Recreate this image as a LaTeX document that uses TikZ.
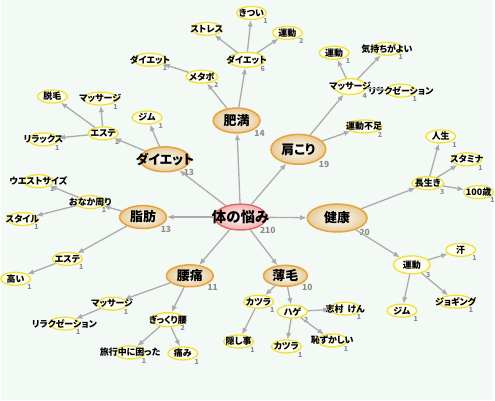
\documentclass[tikz,border=0pt]{standalone}
\usepackage{fontspec}
\newfontfamily\jp[RawFeature=+palt]{Noto Sans CJK JP}
\usetikzlibrary{shapes.geometric,arrows.meta}
\definecolor{bgmint}{HTML}{F3FAF5}
\definecolor{edgegray}{HTML}{ABABAB}
\definecolor{toporange}{HTML}{E9A23B}
\definecolor{toptan}{HTML}{E6CB98}
\definecolor{hubred}{HTML}{E46464}
\definecolor{hubpink}{HTML}{F3B0B0}
\definecolor{leafyellow}{HTML}{EFE03A}
\definecolor{leafcream}{HTML}{FFFDEB}
\definecolor{countgray}{HTML}{8C8C8C}
\newcommand\freetext[1]{\makebox[0pt]{#1}}
\tikzset{
  hub/.style={ellipse, draw=hubred, line width=1.4pt, inner color=white,
    outer color=hubpink, minimum width=52pt, minimum height=26pt, inner sep=0pt,
    font=\jp\bfseries\fontsize{14.5}{14.5}\selectfont},
  topic/.style={ellipse, draw=toporange, line width=1.5pt, inner color=white,
    outer color=toptan, inner sep=0pt,
    font=\jp\bfseries\fontsize{13}{13}\selectfont},
  leaf/.style={ellipse, draw=leafyellow, line width=1.3pt, fill=leafcream,
    minimum width=30pt, minimum height=13pt, inner sep=0pt,
    font=\jp\bfseries\fontsize{9}{9}\selectfont},
  count/.style={text=countgray, inner sep=0.5pt,
    font=\jp\bfseries\fontsize{7}{7}\selectfont},
  bigcount/.style={count, font=\jp\bfseries\fontsize{8.5}{8.5}\selectfont},
  conn/.style={draw=edgegray, line width=1.3pt, -{Latex[length=6.5pt,width=5.5pt]}}
}
\begin{document}
\begin{tikzpicture}[x=1pt,y=-1pt]
      \fill[bgmint] (0,0) rectangle (495,402);
      % root and topics
      \path
        (241,218) node[hub,label={[bigcount]south east:210}] (hub){\freetext{体の悩み}}
        (237,121) node[topic,minimum width=47pt,minimum height=25pt,label={[bigcount]south east:14}] (himan){\freetext{肥満}}
        (299,150) node[topic,minimum width=55pt,minimum height=30pt,label={[bigcount]south east:19}] (katakori){\freetext{肩こり}}
        (165,160) node[topic,minimum width=50pt,minimum height=25pt,label={[bigcount]south east:13}] (diet){\freetext{ダイエット}}
        (143,218) node[topic,minimum width=47pt,minimum height=23pt,label={[bigcount]south east:13}] (shibou){\freetext{脂肪}}
        (338,219) node[topic,minimum width=60pt,minimum height=28pt,label={[bigcount]south east:20}] (kenkou){\freetext{健康}}
        (190,277) node[topic,minimum width=47pt,minimum height=22pt,label={[bigcount]south east:11}] (youtsuu){\freetext{腰痛}}
        (286,277) node[topic,minimum width=44pt,minimum height=21pt,label={[bigcount]south east:10}] (usuge){\freetext{薄毛}};
      % leaves
      \path
        (252,13) node[leaf,label={[count]south east:1}] (kitsui){\freetext{きつい}}
        (207,29) node[leaf] (stress){\freetext{ストレス}}
        (247,60) node[leaf,minimum width=37pt,minimum height=15pt,label={[count]south east:6}] (dietsix){\freetext{ダイエット}}
        (288,33) node[leaf,label={[count]south east:2}] (undoutwo){\freetext{運動}}
        (202,77) node[leaf,minimum width=32pt,label={[count]south east:2}] (metabo){\freetext{メタボ}}
        (150,60) node[leaf,minimum width=33pt,label={[count]south east:1}] (dietone){\freetext{ダイエット}}
        (147,118) node[leaf,label={[count]south east:1}] (gymone){\freetext{ジム}}
        (103,134) node[leaf,label={[count]south east:1}] (esteone){\freetext{エステ}}
        (52,97) node[leaf] (datsumou){\freetext{脱毛}}
        (100,99) node[leaf,minimum width=34pt,label={[count]south east:1}] (massageone){\freetext{マッサージ}}
        (43,140) node[leaf,label={[count]south east:1}] (relax){\freetext{リラックス}}
        (38,182) node[leaf,label={[count]south east:1}] (waist){\freetext{ウエストサイズ}}
        (90,203) node[leaf,label={[count]south east:1}] (onaka){\freetext{おなか周り}}
        (22,220) node[leaf,label={[count]south east:1}] (style){\freetext{スタイル}}
        (67,260) node[leaf,label={[count]south east:1}] (estetwo){\freetext{エステ}}
        (15,280) node[leaf,label={[count]south east:1}] (takai){\freetext{高い}}
        (112,305) node[leaf,label={[count]south east:1}] (massagetwo){\freetext{マッサージ}}
        (64,325) node[leaf,label={[count]south east:1}] (relaxtwo){\freetext{リラクゼーション}}
        (168,321) node[leaf,minimum width=33pt,minimum height=14pt,label={[count]south east:2}] (gikkuri){\freetext{ぎっくり腰}}
        (130,354) node[leaf,label={[count]south east:1}] (ryokou){\freetext{旅行中に困った}}
        (183,355) node[leaf,label={[count]south east:1}] (itami){\freetext{痛み}}
        (259,303) node[leaf,label={[count]south east:1}] (katsuraone){\freetext{カツラ}}
        (239,343) node[leaf,label={[count]south east:1}] (kakushi){\freetext{隠し事}}
        (293,313) node[leaf,label={[count]south east:2}] (hage){\freetext{ハゲ}}
        (346,310) node[leaf,label={[count]south east:1}] (shimura){\freetext{志村\ \ けん}}
        (287,348) node[leaf,label={[count]south east:1}] (katsuratwo){\freetext{カツラ}}
        (333,342) node[leaf,label={[count]south east:1}] (hazukashii){\freetext{恥ずかしい}}
        (413,266) node[leaf,minimum width=37pt,minimum height=18pt,label={[count]south east:3}] (undouthree){\freetext{運動}}
        (462,251) node[leaf,label={[count]south east:1}] (ase){\freetext{汗}}
        (403,312) node[leaf,label={[count]south east:1}] (gymtwo){\freetext{ジム}}
        (457,303) node[leaf,minimum width=34pt,label={[count]south east:1}] (jogging){\freetext{ジョギング}}
        (335,53) node[leaf,label={[count]south east:1}] (undouone){\freetext{運動}}
        (388,49) node[leaf,label={[count]south east:1}] (kimochi){\freetext{気持ちがよい}}
        (351,87) node[leaf,minimum width=32pt,minimum height=16pt,label={[count]south east:4}] (massagefour){\freetext{マッサージ}}
        (402,91) node[leaf,label={[count]south east:1}] (relaxthree){\freetext{リラクゼーション}}
        (365,127) node[leaf,minimum width=36pt,label={[count]south east:2}] (busoku){\freetext{運動不足}}
        (442,137) node[leaf,label={[count]south east:1}] (jinsei){\freetext{人生}}
        (468,160) node[leaf,label={[count]south east:1}] (stamina){\freetext{スタミナ}}
        (429,184) node[leaf,minimum width=32pt,label={[count]south east:3}] (nagaiki){\freetext{長生き}}
        (480,193) node[leaf,label={[count]south east:1}] (hyaku){\freetext{100歳}};
      \begin{scope}[conn]
        \draw (hub) to (himan);
        \draw (hub) to (katakori);
        \draw (hub) to (diet);
        \draw (hub) to (shibou);
        \draw (hub) to (kenkou);
        \draw (hub) to (youtsuu);
        \draw (hub) to (usuge);
        \draw (himan) to (dietsix);
        \draw (himan) to (metabo);
        \draw (dietsix) to (kitsui);
        \draw (dietsix) to (stress);
        \draw (dietsix) to (undoutwo);
        \draw (metabo) to (dietone);
        \draw (diet) to (gymone);
        \draw (diet) to (esteone);
        \draw (esteone) to (datsumou);
        \draw (esteone) to (massageone);
        \draw (esteone) to (relax);
        \draw (katakori) to (massagefour);
        \draw (katakori) to (busoku);
        \draw (massagefour) to (undouone);
        \draw (massagefour) to (kimochi);
        \draw (massagefour) to (relaxthree);
        \draw (shibou) to (onaka);
        \draw (shibou) to (estetwo);
        \draw (onaka) to (waist);
        \draw (onaka) to (style);
        \draw (estetwo) to (takai);
        \draw (youtsuu) to (massagetwo);
        \draw (youtsuu) to (gikkuri);
        \draw (massagetwo) to (relaxtwo);
        \draw (gikkuri) to (ryokou);
        \draw (gikkuri) to (itami);
        \draw (usuge) to (katsuraone);
        \draw (usuge) to (hage);
        \draw (katsuraone) to (kakushi);
        \draw (hage) to (shimura);
        \draw (hage) to (katsuratwo);
        \draw (hage) to (hazukashii);
        \draw (kenkou) to (nagaiki);
        \draw (kenkou) to (undouthree);
        \draw (nagaiki) to (jinsei);
        \draw (nagaiki) to (stamina);
        \draw (nagaiki) to (hyaku);
        \draw (undouthree) to (ase);
        \draw (undouthree) to (gymtwo);
        \draw (undouthree) to (jogging);
      \end{scope}
    \end{tikzpicture}
\end{document}
